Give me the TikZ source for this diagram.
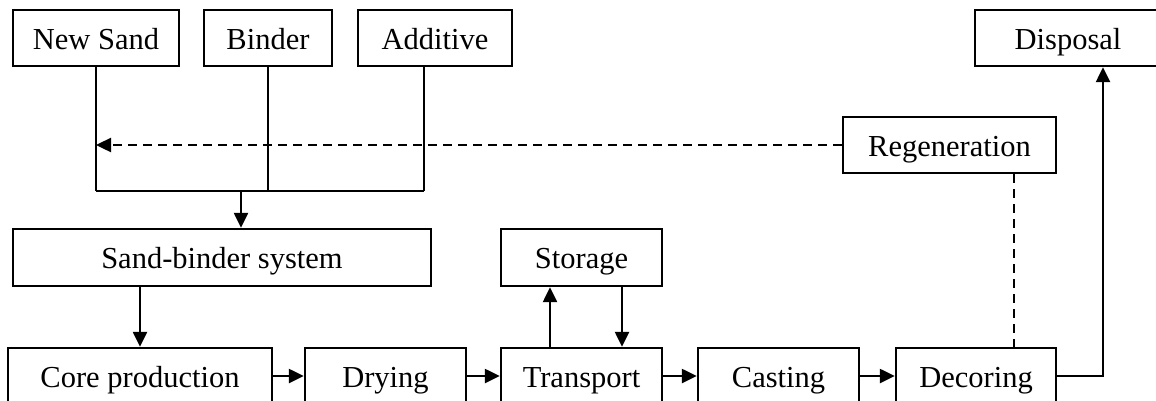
\documentclass[tikz,border=0pt]{standalone}
\usepackage{fontspec}
\setmainfont{Liberation Serif}
\usetikzlibrary{arrows.meta}
\begin{document}
\begin{tikzpicture}[x=1pt,y=-1pt,
  box/.style={draw, line width=2.4pt, inner sep=0pt, minimum height=56pt,
    font=\fontsize{30.5}{36}\selectfont, text height=22pt, text depth=0pt},
  ln/.style={line width=2.4pt},
  tip/.style={-{Triangle[length=15pt,width=14pt]}},
  arr/.style={ln, tip},
  dsh/.style={line width=2.4pt, dash pattern=on 9pt off 6pt}]
\useasboundingbox (0,0) rectangle (1156,400);
\clip (0,0) rectangle (1156,400);
\fill[white] (0,0) rectangle (1156,400);
% top row
\node[box, minimum width=166pt] (ns) at (96,38) {New Sand};
\node[box, minimum width=128pt] (bi) at (268,38) {Binder};
\node[box, minimum width=154pt] (ad) at (435,38) {Additive};
\node[box, minimum width=186pt] (di) at (1068,38) {Disposal};
\node[box, minimum width=213pt] (re) at (949.5,145) {Regeneration};
% middle row
\node[box, minimum width=418pt, minimum height=57pt] (sb) at (222,257.5) {Sand-binder system};
\node[box, minimum width=161pt, minimum height=57pt] (st) at (581.5,257.5) {Storage};
% bottom row
\node[box, minimum width=264pt] (co) at (140,376) {Core production};
\node[box, minimum width=161pt] (dr) at (385.5,376) {Drying};
\node[box, minimum width=161pt] (tr) at (581.5,376) {Transport};
\node[box, minimum width=161pt] (ca) at (778.5,376) {Casting};
\node[box, minimum width=160pt] (de) at (976,376) {Decoring};
% helper coordinates
\coordinate (xadd) at (424,0);
\coordinate (jl) at (96,191);
\coordinate (jr) at (424,191);
\coordinate (jm) at (241,191);
\coordinate (xup) at (550,0);
\coordinate (xdn) at (622,0);
\coordinate (xdash) at (1014,0);
\coordinate (xdisp) at (1103,0);
\coordinate (corner) at (1103,376);
% merge of inputs
\draw[ln] (ns.south) -- (jl);
\draw[ln] (bi.south) -- (bi.south |- jl);
\draw[ln] (ad.south -| xadd) -- (jr);
\draw[ln] (jl) -- (jr);
\draw[arr] (jm) -- (sb.north -| jm);
% regeneration return
\draw[dsh, tip] (re.west) -- (re.west -| ns.south);
\draw[dsh] (re.south -| xdash) -- (de.north -| xdash);
% main flow
\draw[arr] (sb.south -| co.north) -- (co.north);
\draw[arr] (co.east) -- (dr.west);
\draw[arr] (dr.east) -- (tr.west);
\draw[arr] (tr.east) -- (ca.west);
\draw[arr] (ca.east) -- (de.west);
\draw[arr] (tr.north -| xup) -- (st.south -| xup);
\draw[arr] (st.south -| xdn) -- (tr.north -| xdn);
\draw[arr] (de.east) -- (corner) -- (di.south -| xdisp);
\end{tikzpicture}
\end{document}
